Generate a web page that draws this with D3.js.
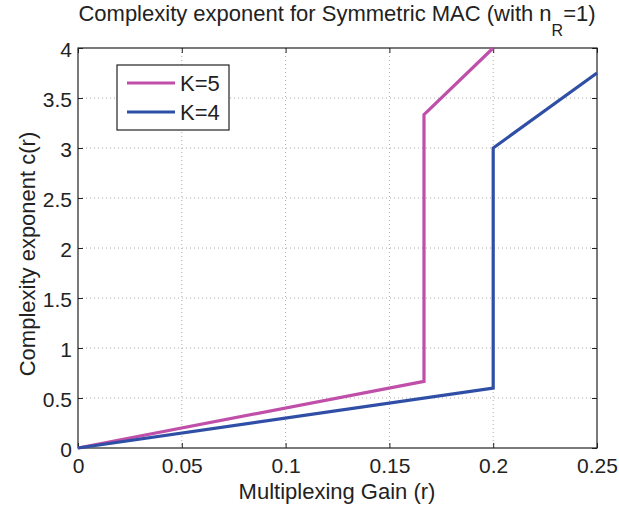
<!DOCTYPE html>
<html><head><meta charset="utf-8">
<script src="https://cdn.jsdelivr.net/npm/d3@7"></script>
<style>body{margin:0;background:#fff;font-family:Arial,"Liberation Sans",sans-serif;}</style>
</head><body><svg id="c" width="619" height="506"></svg>
<script>
const xTicks = [0, 0.05, 0.1, 0.15, 0.2, 0.25];
const yTicks = [0, 0.5, 1, 1.5, 2, 2.5, 3, 3.5, 4];
const seriesNames = ["K=5", "K=4"];
const seriesColors = ["#BF4FA8", "#2F4EA5"];
const k5r = [0, 1/6, 1/6, 0.2];
const k5c = [0, 2/3, 10/3, 4];
const k4r = [0, 0.2, 0.2, 0.25];
const k4c = [0, 0.6, 3, 3.75];

const svg = d3.select("#c");
const L = 78, R = 597, T = 48, B = 448;
const x = d3.scaleLinear().domain([0, 0.25]).range([L, R]);
const y = d3.scaleLinear().domain([0, 4]).range([B, T]);
const font = "Arial, 'Liberation Sans', sans-serif";
const ink = "#222";

// grid
const g = svg.append("g");
xTicks.slice(1, -1).forEach(t => g.append("line").attr("x1", x(t)).attr("x2", x(t)).attr("y1", T).attr("y2", B)
  .attr("stroke", "#aaa").attr("stroke-width", 1).attr("stroke-dasharray", "1,3"));
yTicks.slice(1, -1).forEach(t => g.append("line").attr("y1", y(t)).attr("y2", y(t)).attr("x1", L).attr("x2", R)
  .attr("stroke", "#aaa").attr("stroke-width", 1).attr("stroke-dasharray", "1,3"));

// axes
const xAx = svg.append("g").attr("transform", `translate(0,${B})`)
  .call(d3.axisBottom(x).tickValues(xTicks).tickFormat(d => String(+d.toFixed(2))).tickSizeInner(-5).tickSizeOuter(0).tickPadding(10));
const yAx = svg.append("g").attr("transform", `translate(${L},0)`)
  .call(d3.axisLeft(y).tickValues(yTicks).tickFormat(d => String(d)).tickSizeInner(-5).tickSizeOuter(0).tickPadding(6));
svg.append("g").attr("transform", `translate(0,${T})`)
  .call(d3.axisTop(x).tickValues(xTicks).tickFormat("").tickSizeInner(-5).tickSizeOuter(0));
svg.append("g").attr("transform", `translate(${R},0)`)
  .call(d3.axisRight(y).tickValues(yTicks).tickFormat("").tickSizeInner(-5).tickSizeOuter(0));
svg.selectAll(".domain").remove();
svg.selectAll(".tick line").attr("stroke", ink);
[xAx, yAx].forEach(a => a.selectAll("text").attr("font-size", 21).attr("font-family", font).attr("fill", ink));
xAx.selectAll("text").attr("y", 25).attr("dy", "0");
yAx.selectAll("text").attr("dy", "0.42em");
svg.append("rect").attr("x", L).attr("y", T).attr("width", R - L).attr("height", B - T)
  .attr("fill", "none").attr("stroke", ink).attr("stroke-width", 1.2);

// lines
const line = d3.line().x(d => x(d[0])).y(d => y(d[1]));
const data = [d3.zip(k5r, k5c), d3.zip(k4r, k4c)];
data.forEach((d, i) => svg.append("path").attr("d", line(d)).attr("fill", "none")
  .attr("stroke", seriesColors[i]).attr("stroke-width", 3.2).attr("stroke-linejoin", "miter"));

// legend
const lg = svg.append("g");
lg.append("rect").attr("x", 117).attr("y", 65).attr("width", 112).attr("height", 65)
  .attr("fill", "#fff").attr("stroke", ink).attr("stroke-width", 1.2);
seriesNames.forEach((n, i) => {
  const yy = 83 + i * 29;
  lg.append("line").attr("x1", 127).attr("x2", 175).attr("y1", yy).attr("y2", yy)
    .attr("stroke", seriesColors[i]).attr("stroke-width", 3.2);
  lg.append("text").attr("x", 180).attr("y", yy).attr("dy", "0.36em").attr("font-size", 22)
    .attr("font-family", font).attr("fill", ink).text(n);
});

// titles
const tt = svg.append("text").attr("x", 337).attr("y", 21).attr("text-anchor", "middle")
  .attr("font-size", 22).attr("font-family", font).attr("fill", ink);
tt.append("tspan").text("Complexity exponent for Symmetric MAC (with n");
tt.append("tspan").attr("dy", 15).attr("font-size", 16).text("R");
tt.append("tspan").attr("dy", -15).text("=1)");
svg.append("text").attr("x", 337).attr("y", 499).attr("text-anchor", "middle")
  .attr("font-size", 22).attr("font-family", font).attr("fill", ink).text("Multiplexing Gain (r)");
svg.append("text").attr("transform", "translate(35,254) rotate(-90)").attr("text-anchor", "middle")
  .attr("font-size", 22).attr("font-family", font).attr("fill", ink).text("Complexity exponent c(r)");
</script></body></html>
